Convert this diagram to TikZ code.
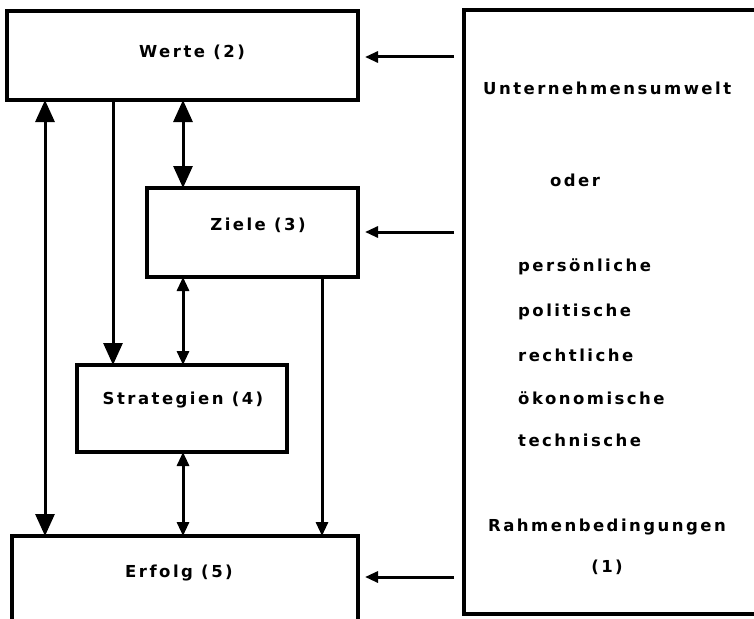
\documentclass[tikz,border=0pt]{standalone}
\usepackage{fontspec}
\setmainfont{DejaVu Sans}
\newfontfamily\lblfont{DejaVu Sans}[LetterSpace=15]
\usetikzlibrary{arrows.meta}
\begin{document}
\begin{tikzpicture}[x=1pt,y=-1pt,
  box/.style={draw, line width=3.2pt, rectangle, inner sep=0pt, outer sep=0pt},
  txt/.style={font=\lblfont\bfseries\fontsize{16.5}{20}\selectfont, inner sep=0pt, anchor=center},
  lefttxt/.style={txt, anchor=west},
  conn/.style={line width=3pt},
  bigtip/.style={-{Triangle[length=22pt,width=19pt]}},
  bigboth/.style={{Triangle[length=22pt,width=19pt]}-{Triangle[length=22pt,width=19pt]}},
  smallboth/.style={{Triangle[length=14pt,width=12pt]}-{Triangle[length=14pt,width=12pt]}},
  smalltip/.style={-{Triangle[length=14pt,width=12pt]}},
  sidetip/.style={-{Triangle[length=13pt,width=11pt]}}]
\useasboundingbox (0,0) rectangle (754,618);
% boxes
\node[box, minimum width=351pt, minimum height=89pt] (werte) at (182.5,55.5) {};
\node[box, minimum width=211pt, minimum height=89pt] (ziele) at (252.5,232.5) {};
\node[box, minimum width=210pt, minimum height=87pt] (strat) at (182,408.5) {};
\node[box, minimum width=346pt, minimum height=110pt] (erfolg) at (185,591) {};
\node[box, minimum width=320pt, minimum height=604pt] (rbox) at (624,312) {};
% box texts
\node[txt] (twerte) at (192,52) {Werte\enspace(2)};
\node[txt] (tziele) at (258,225) {Ziele\enspace(3)};
\node[txt] (tstrat) at (183,400) {Strategien\enspace(4)};
\node[txt] (terfolg) at (179,573) {Erfolg\enspace(5)};
% right box texts
\node[lefttxt] (tu) at (483,88) {Unternehmensumwelt};
\node[txt] (toder) at (575,180) {oder};
\node[lefttxt] (tp1) at (518,267) {persönliche};
\node[lefttxt] (tp2) at (518,312) {politische};
\node[lefttxt] (tp3) at (518,355) {rechtliche};
\node[lefttxt] (tp4) at (518,398) {ökonomische};
\node[lefttxt] (tp5) at (518,440) {technische};
\node[txt] (trahmen) at (607,527) {Rahmenbedingungen};
\node[txt] (teins) at (607,567) {(1)};
% x positions
\coordinate (xa) at (45,0);
\coordinate (xb) at (113,0);
\coordinate (xc) at (183,0);
\coordinate (xd) at (322,0);
\coordinate (yw) at (0,57);
\coordinate (yz) at (0,232);
\coordinate (ye) at (0,577);
% connectors
\draw[conn, bigboth] (werte.south -| xa) -- (erfolg.north -| xa);
\draw[conn, bigtip] (werte.south -| xb) -- (strat.north -| xb);
\draw[conn, bigboth] (werte.south -| xc) -- (ziele.north -| xc);
\draw[conn, smallboth] (ziele.south -| xc) -- (strat.north -| xc);
\draw[conn, smallboth] (strat.south -| xc) -- (erfolg.north -| xc);
\draw[conn, smalltip] (ziele.south -| xd) -- (erfolg.north -| xd);
% side arrows
\draw[conn, sidetip] ([xshift=-10pt]rbox.west |- yw) -- ([xshift=7pt]werte.east |- yw);
\draw[conn, sidetip] ([xshift=-10pt]rbox.west |- yz) -- ([xshift=7pt]ziele.east |- yz);
\draw[conn, sidetip] ([xshift=-10pt]rbox.west |- ye) -- ([xshift=7pt]erfolg.east |- ye);
\end{tikzpicture}
\end{document}
